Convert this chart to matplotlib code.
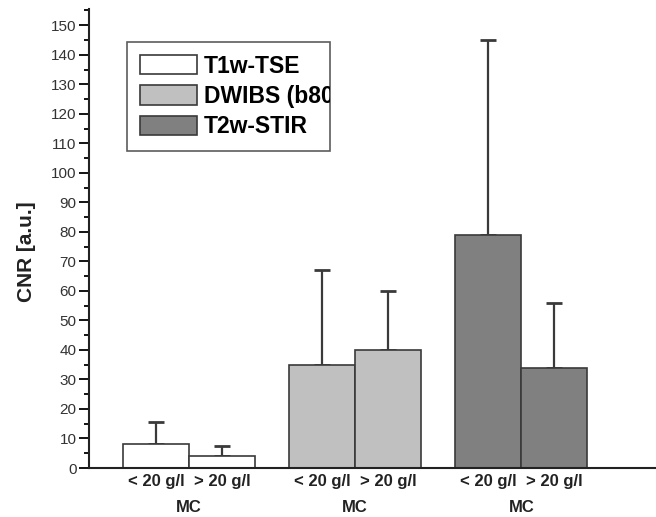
import numpy as np
import matplotlib
matplotlib.use('Agg')
import matplotlib.pyplot as plt
from matplotlib.ticker import MultipleLocator

plt.rcParams['font.family'] = ['Liberation Sans', 'DejaVu Sans']

# DATA
series = ['T1w-TSE', 'DWIBS (b800)', 'T2w-STIR']
sub_labels = ['< 20 g/l', '> 20 g/l']
group_label = 'MC'
means = [[8, 4], [35, 40], [79, 34]]
errs = [[7.5, 3.5], [32, 20], [66, 22]]
colors = ['#ffffff', '#c0c0c0', '#808080']

edge = '#3a3a3a'
group_centers = [2.0, 4.515, 7.03]
bar_w = 1.0

fig = plt.figure(figsize=(6.56, 5.17), dpi=100)
ax = fig.add_axes([89/656, 49/517, 1 - 89/656, (468 - 9)/517])

tick_pos = []
tick_lab = []
for i, name in enumerate(series):
    xs = [group_centers[i] - bar_w/2, group_centers[i] + bar_w/2]
    ax.bar(xs, means[i], width=bar_w, color=colors[i], edgecolor=edge,
           linewidth=1.2, label=name, zorder=2)
    ax.errorbar(xs, means[i], yerr=[[0, 0], errs[i]], fmt='none',
                ecolor=edge, elinewidth=1.6, capsize=6, capthick=2, zorder=1)
    tick_pos += xs
    tick_lab += sub_labels

ax.set_xlim(0.485, 9.07)
ax.set_ylim(0, 155.5)
ax.yaxis.set_major_locator(MultipleLocator(10))
ax.yaxis.set_minor_locator(MultipleLocator(5))
ax.set_xticks(tick_pos)
ax.set_xticklabels(tick_lab, fontsize=12, fontweight='bold', color='#222222')
ax.tick_params(axis='x', length=0, pad=4)
ax.tick_params(axis='y', which='major', length=7, width=1.3, labelsize=11,
               labelcolor='#333333', pad=2)
ax.tick_params(axis='y', which='minor', length=3.6, width=1.3)

for c in group_centers:
    ax.text(c, -39/459, group_label, transform=ax.get_xaxis_transform(),
            ha='center', va='center', fontsize=12, fontweight='bold', color='#222222')

ax.spines['top'].set_visible(False)
ax.spines['right'].set_visible(False)
ax.spines['left'].set_linewidth(1.5)
ax.spines['bottom'].set_linewidth(1.5)
ax.spines['left'].set_color('#222222')
ax.spines['bottom'].set_color('#222222')

ax.set_ylabel('CNR [a.u.]', fontsize=15, fontweight='bold', color='#222222')
ax.yaxis.set_label_coords(-(89 - 36)/567, (468 - 252)/459)

# legend box is narrower than its longest label in the original -> clip it
leg_x0 = (127 - 89)/567
leg_x1 = (330 - 89)/567
leg_top = (468 - 42)/459
leg = ax.legend(loc='upper left', bbox_to_anchor=(leg_x0, leg_top - 0.3, leg_x1 - leg_x0, 0.3),
                mode='expand', frameon=True, fancybox=False, edgecolor='#333333',
                prop={'weight': 'bold', 'size': 16.5}, handlelength=2.5,
                handleheight=0.92, handletextpad=0.3, labelspacing=0.32,
                borderpad=0.55, borderaxespad=0)
leg.get_frame().set_linewidth(1.2)

fig.canvas.draw()
frame_bb = leg.get_frame().get_window_extent()
for t in leg.get_texts():
    t.set_clip_box(frame_bb)
    t.set_clip_on(True)

fig.savefig('out.png', dpi=100)
